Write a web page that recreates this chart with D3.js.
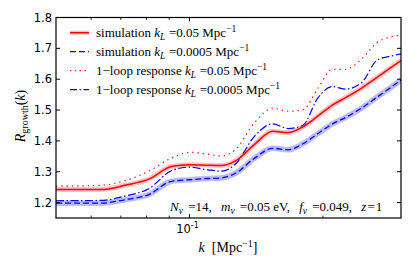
<!DOCTYPE html>
<html>
<head>
<meta charset="utf-8">
<script src="https://cdn.jsdelivr.net/npm/d3@7"></script>
<style>
body { margin: 0; background: #fff; }
text { white-space: pre; }
.serif { font-family: "Liberation Serif", "DejaVu Serif", serif; }
</style>
</head>
<body>
<div id="main"></div>
<script>
const width = 413;
const height = 275;
const margin = {top: 17.5, right: 12, bottom: 57, left: 56};

// k [Mpc^-1]
const kValues = [0.050, 0.063, 0.072, 0.081, 0.091, 0.100, 0.110, 0.118, 0.127, 0.140,
                 0.154, 0.167, 0.180, 0.195, 0.210, 0.225, 0.245, 0.265, 0.285, 0.300];
// simulation, k_L = 0.05
const simHigh = [1.242, 1.242, 1.257, 1.276, 1.317, 1.323, 1.321, 1.320, 1.335, 1.388,
                 1.431, 1.427, 1.445, 1.481, 1.516, 1.540, 1.572, 1.606, 1.638, 1.660];
// simulation, k_L = 0.0005
const simLow = [1.198, 1.198, 1.210, 1.226, 1.269, 1.274, 1.278, 1.280, 1.295, 1.343,
                1.376, 1.371, 1.390, 1.424, 1.455, 1.476, 1.507, 1.542, 1.574, 1.597];
// 1-loop response, k_L = 0.05
const loopHigh = [1.253, 1.256, 1.272, 1.302, 1.344, 1.363, 1.357, 1.351, 1.372, 1.458,
                  1.506, 1.496, 1.500, 1.571, 1.632, 1.632, 1.667, 1.719, 1.737, 1.744];
// 1-loop response, k_L = 0.0005
const loopLow = [1.206, 1.207, 1.222, 1.245, 1.303, 1.315, 1.306, 1.302, 1.325, 1.414,
                 1.455, 1.440, 1.450, 1.540, 1.576, 1.568, 1.590, 1.662, 1.675, 1.682];

const yTicks = [1.2, 1.3, 1.4, 1.5, 1.6, 1.7, 1.8];
const xMajor = [0.1];
const xMinor = [0.06, 0.07, 0.08, 0.09, 0.2];

const legendRows = [
    {label: 'simulation', kl: '0.05', color: 'red', dash: null, band: true},
    {label: 'simulation', kl: '0.0005', color: 'blue', dash: '6,3', band: false},
    {label: '1\u2212loop response', kl: '0.05', color: 'red', dash: '1.3,3.5', band: false},
    {label: '1\u2212loop response', kl: '0.0005', color: 'blue', dash: '7,2.5,1.5,2.5', band: false}
];

const svg = d3.select('#main')
    .append('svg')
    .attr('width', width)
    .attr('height', height);

const x = d3.scaleLog()
    .domain([0.05, 0.3])
    .range([margin.left, width - margin.right]);

const y = d3.scaleLinear()
    .domain([1.15, 1.8])
    .range([height - margin.bottom, margin.top]);

svg.append('clipPath').attr('id', 'clip')
    .append('rect')
    .attr('x', margin.left).attr('y', margin.top)
    .attr('width', width - margin.left - margin.right)
    .attr('height', height - margin.top - margin.bottom);

const plot = svg.append('g').attr('clip-path', 'url(#clip)');

const line = vals => d3.line()
    .x((d, i) => x(kValues[i]))
    .y(d => y(d))
    .curve(d3.curveMonotoneX)(vals);

// error bands
plot.append('path').attr('d', line(simLow))
    .attr('fill', 'none').attr('stroke', 'rgba(60,60,255,0.35)').attr('stroke-width', 5.5);
plot.append('path').attr('d', line(simHigh))
    .attr('fill', 'none').attr('stroke', 'rgba(255,60,60,0.3)').attr('stroke-width', 5);

plot.append('path').attr('d', line(loopHigh))
    .attr('fill', 'none').attr('stroke', 'red').attr('stroke-width', 1.2)
    .attr('stroke-dasharray', '1.3,4');
plot.append('path').attr('d', line(loopLow))
    .attr('fill', 'none').attr('stroke', 'blue').attr('stroke-width', 1.2)
    .attr('stroke-dasharray', '8,2.5,1.5,2.5');
plot.append('path').attr('d', line(simLow))
    .attr('fill', 'none').attr('stroke', 'blue').attr('stroke-width', 1.3)
    .attr('stroke-dasharray', '6,3');
plot.append('path').attr('d', line(simHigh))
    .attr('fill', 'none').attr('stroke', 'red').attr('stroke-width', 1.5);

// frame with inward ticks on all four sides
const x0 = margin.left, x1 = width - margin.right;
const y0 = height - margin.bottom, y1 = margin.top;

const axes = svg.append('g');
axes.selectAll('.ytick')
    .data(yTicks).enter()
    .append('path')
    .attr('d', d => `M${x0},${y(d)}h4M${x1},${y(d)}h-4`)
    .attr('stroke', 'black').attr('stroke-width', 1);
axes.selectAll('.xmajor')
    .data(xMajor).enter()
    .append('path')
    .attr('d', d => `M${x(d)},${y0}v-4M${x(d)},${y1}v4`)
    .attr('stroke', 'black').attr('stroke-width', 1);
axes.selectAll('.xminor')
    .data(xMinor).enter()
    .append('path')
    .attr('d', d => `M${x(d)},${y0}v-2.5M${x(d)},${y1}v2.5`)
    .attr('stroke', 'black').attr('stroke-width', 0.8);

svg.append('rect')
    .attr('x', x0).attr('y', y1)
    .attr('width', x1 - x0).attr('height', y0 - y1)
    .attr('fill', 'none').attr('stroke', 'black').attr('stroke-width', 1.2);

svg.selectAll('.ylab')
    .data(yTicks).enter()
    .append('text')
    .attr('x', x0 - 4).attr('y', d => y(d) + 4)
    .attr('text-anchor', 'end')
    .style('font-family', '"DejaVu Sans", sans-serif')
    .style('font-size', '11.5px')
    .text(d => d.toFixed(1));

const xl = svg.selectAll('.xlab')
    .data(xMajor).enter()
    .append('text')
    .attr('x', d => x(d) - 2).attr('y', y0 + 15)
    .attr('text-anchor', 'middle')
    .style('font-family', '"DejaVu Sans", sans-serif')
    .style('font-size', '11.5px');
xl.append('tspan').text('10');
xl.append('tspan').attr('dy', -5).style('font-size', '8px').text('-1');

// italic symbol with italic subscript followed by " =", e.g. k_L =
function symSub(t, v, s, gap) {
    t.append('tspan').style('font-style', 'italic').text(v);
    t.append('tspan').attr('dy', 3).style('font-size', '9.5px').style('font-style', 'italic').text(s);
    t.append('tspan').attr('dy', -3).attr('dx', gap).text(' =');
}

// legend
const leg = svg.append('g');
legendRows.forEach((r, i) => {
    const cy = 32.7 + i * 19;
    if (r.band) {
        leg.append('line').attr('x1', 70).attr('x2', 89).attr('y1', cy).attr('y2', cy)
            .attr('stroke', 'rgba(255,60,60,0.3)').attr('stroke-width', 4);
    }
    leg.append('line').attr('x1', 70).attr('x2', 89).attr('y1', cy).attr('y2', cy)
        .attr('stroke', r.color).attr('stroke-width', r.dash ? 1.2 : 1.5)
        .attr('stroke-dasharray', r.dash);
    const t = leg.append('text').attr('class', 'serif')
        .attr('x', 96).attr('y', cy + 4.3)
        .style('font-size', '13px');
    t.append('tspan').text(r.label + ' ');
    t.append('tspan').attr('dx', 1.5).text('');
    symSub(t, 'k', 'L', 0.5);
    t.append('tspan').text(r.kl);
    t.append('tspan').text(' Mpc');
    t.append('tspan').attr('dy', -5).style('font-size', '9.5px').text('\u22121');
});

// parameter annotation
const ann = svg.append('text').attr('class', 'serif')
    .attr('x', 170).attr('y', 210.5)
    .style('font-size', '13px');
symSub(ann, 'N', '\u03bd', 2);
ann.append('tspan').text('14,');
ann.append('tspan').attr('dx', 6).style('font-style', 'italic').text(' m');
ann.append('tspan').attr('dy', 3).style('font-size', '9.5px').style('font-style', 'italic').text('\u03bd');
ann.append('tspan').attr('dy', -3).attr('dx', 2).text(' =');
ann.append('tspan').text('0.05 eV,');
ann.append('tspan').attr('dx', 6).style('font-style', 'italic').text(' f');
ann.append('tspan').attr('dy', 3).style('font-size', '9.5px').style('font-style', 'italic').text('\u03bd');
ann.append('tspan').attr('dy', -3).attr('dx', 2).text(' =');
ann.append('tspan').text('0.049,');
ann.append('tspan').attr('dx', 6).style('font-style', 'italic').text(' z');
ann.append('tspan').attr('dx', 1).text('=');
ann.append('tspan').attr('dx', 1).text('1');

// axis labels
const xt = svg.append('text').attr('class', 'serif')
    .attr('x', 228).attr('y', 252)
    .attr('text-anchor', 'middle')
    .style('font-size', '14px');
xt.append('tspan').style('font-style', 'italic').text('k');
xt.append('tspan').text('  [Mpc');
xt.append('tspan').attr('dy', -5).style('font-size', '10px').text('\u22121');
xt.append('tspan').attr('dy', 5).text(']');

const yt = svg.append('text').attr('class', 'serif')
    .attr('transform', 'translate(25,116) rotate(-90)')
    .attr('text-anchor', 'middle')
    .style('font-size', '14px');
yt.append('tspan').style('font-style', 'italic').text('R');
yt.append('tspan').attr('dy', 3).style('font-size', '10px').text('growth');
yt.append('tspan').attr('dy', -3).text('(');
yt.append('tspan').style('font-style', 'italic').text('k');
yt.append('tspan').text(')');
</script>
</body>
</html>
